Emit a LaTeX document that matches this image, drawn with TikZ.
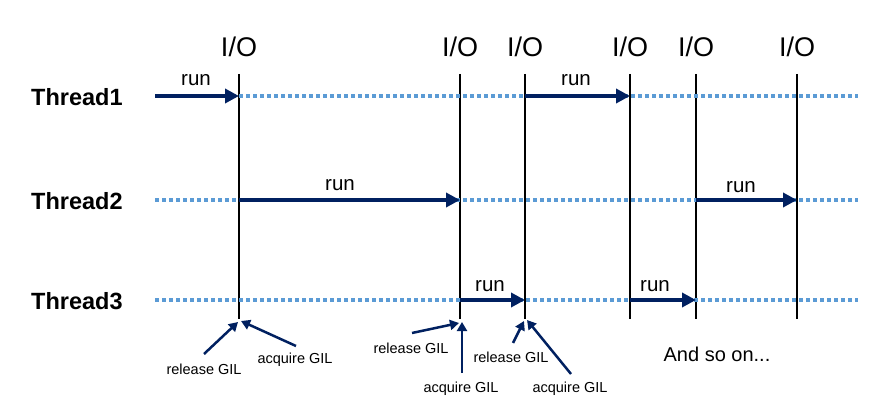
\documentclass[tikz,border=0pt]{standalone}
\usepackage{fontspec}
\setmainfont{Liberation Sans}
\usetikzlibrary{arrows.meta}
\definecolor{navy}{HTML}{002060}
\definecolor{dotblue}{HTML}{5B9BD5}
\begin{document}
\begin{tikzpicture}[x=1pt,y=-1pt,
 io/.style={font=\fontsize{27}{27}\selectfont, inner sep=0pt},
 thr/.style={font=\bfseries\fontsize{23.5}{23.5}\selectfont, inner sep=0pt, anchor=west},
 runlbl/.style={font=\fontsize{20.5}{20.5}\selectfont, inner sep=0pt},
 gil/.style={font=\fontsize{14.5}{14.5}\selectfont, inner sep=0pt},
 idle/.style={dotblue, line width=4pt, dash pattern=on 4pt off 3pt},
 runarrow/.style={navy, line width=4pt, -{Triangle[length=14pt,width=14pt]}},
 gilarrow/.style={navy, line width=2.5pt, -{Triangle[length=9pt,width=10pt]}},
 sep/.style={black, line width=1.6pt}]
\useasboundingbox (0,0) rectangle (887,417);
% thread labels
\node[thr] (th1) at (31,97) {Thread1};
\node[thr] (th2) at (31,201) {Thread2};
\node[thr] (th3) at (31,301) {Thread3};
% line ends
\coordinate (s1) at (155,96);
\coordinate (s2) at (155,200);
\coordinate (s3) at (155,300);
\coordinate (e1) at (858,96);
\coordinate (e2) at (858,200);
\coordinate (e3) at (858,300);
% I/O separators
\foreach \i/\x in {1/239,2/460,3/525,4/630,5/696,6/797}{
  \node[io] (io\i) at (\x,47) {I/O};
  \coordinate (top\i) at (\x,74);
  \coordinate (bot\i) at (\x,319);
  \coordinate (a\i) at (\x,96);
  \coordinate (b\i) at (\x,200);
  \coordinate (c\i) at (\x,300);
  \draw[sep] (top\i) -- (bot\i);
}
% idle (dotted) lines
\draw[idle] (a1) -- (e1);
\draw[idle] (s2) -- (e2);
\draw[idle] (s3) -- (e3);
% run arrows
\draw[runarrow] (s1) -- (a1);
\node[runlbl] (r1) at (196,80) {run};
\draw[runarrow] (b1) -- (b2);
\node[runlbl] (r2) at (340,185) {run};
\draw[runarrow] (c2) -- (c3);
\node[runlbl] (r3) at (490,286) {run};
\draw[runarrow] (a3) -- (a4);
\node[runlbl] (r4) at (576,80) {run};
\draw[runarrow] (c4) -- (c5);
\node[runlbl] (r5) at (655,286) {run};
\draw[runarrow] (b5) -- (b6);
\node[runlbl] (r6) at (741,187) {run};
% GIL annotations
\node[gil] (rel1) at (204,369) {release GIL};
\node[gil] (acq1) at (295,360) {acquire GIL};
\node[gil] (rel2) at (411,348) {release GIL};
\node[gil] (acq2) at (461,389) {acquire GIL};
\node[gil] (rel3) at (511,357) {release GIL};
\node[gil] (acq3) at (570,389) {acquire GIL};
\coordinate (p1) at (204,354);
\coordinate (p1e) at (238,322);
\coordinate (q1) at (296,346);
\coordinate (q1e) at (241,321);
\coordinate (p2) at (412,333);
\coordinate (p2e) at (459,323);
\coordinate (q2) at (462,373);
\coordinate (q2e) at (462,322);
\coordinate (p3) at (513,343);
\coordinate (p3e) at (524,321);
\coordinate (q3) at (571,374);
\coordinate (q3e) at (527,320);
\draw[gilarrow] (p1) -- (p1e);
\draw[gilarrow] (q1) -- (q1e);
\draw[gilarrow] (p2) -- (p2e);
\draw[gilarrow] (q2) -- (q2e);
\draw[gilarrow] (p3) -- (p3e);
\draw[gilarrow] (q3) -- (q3e);
\node[font=\fontsize{20}{20}\selectfont, inner sep=0pt] (more) at (717,354) {And so on...};
\end{tikzpicture}
\end{document}
